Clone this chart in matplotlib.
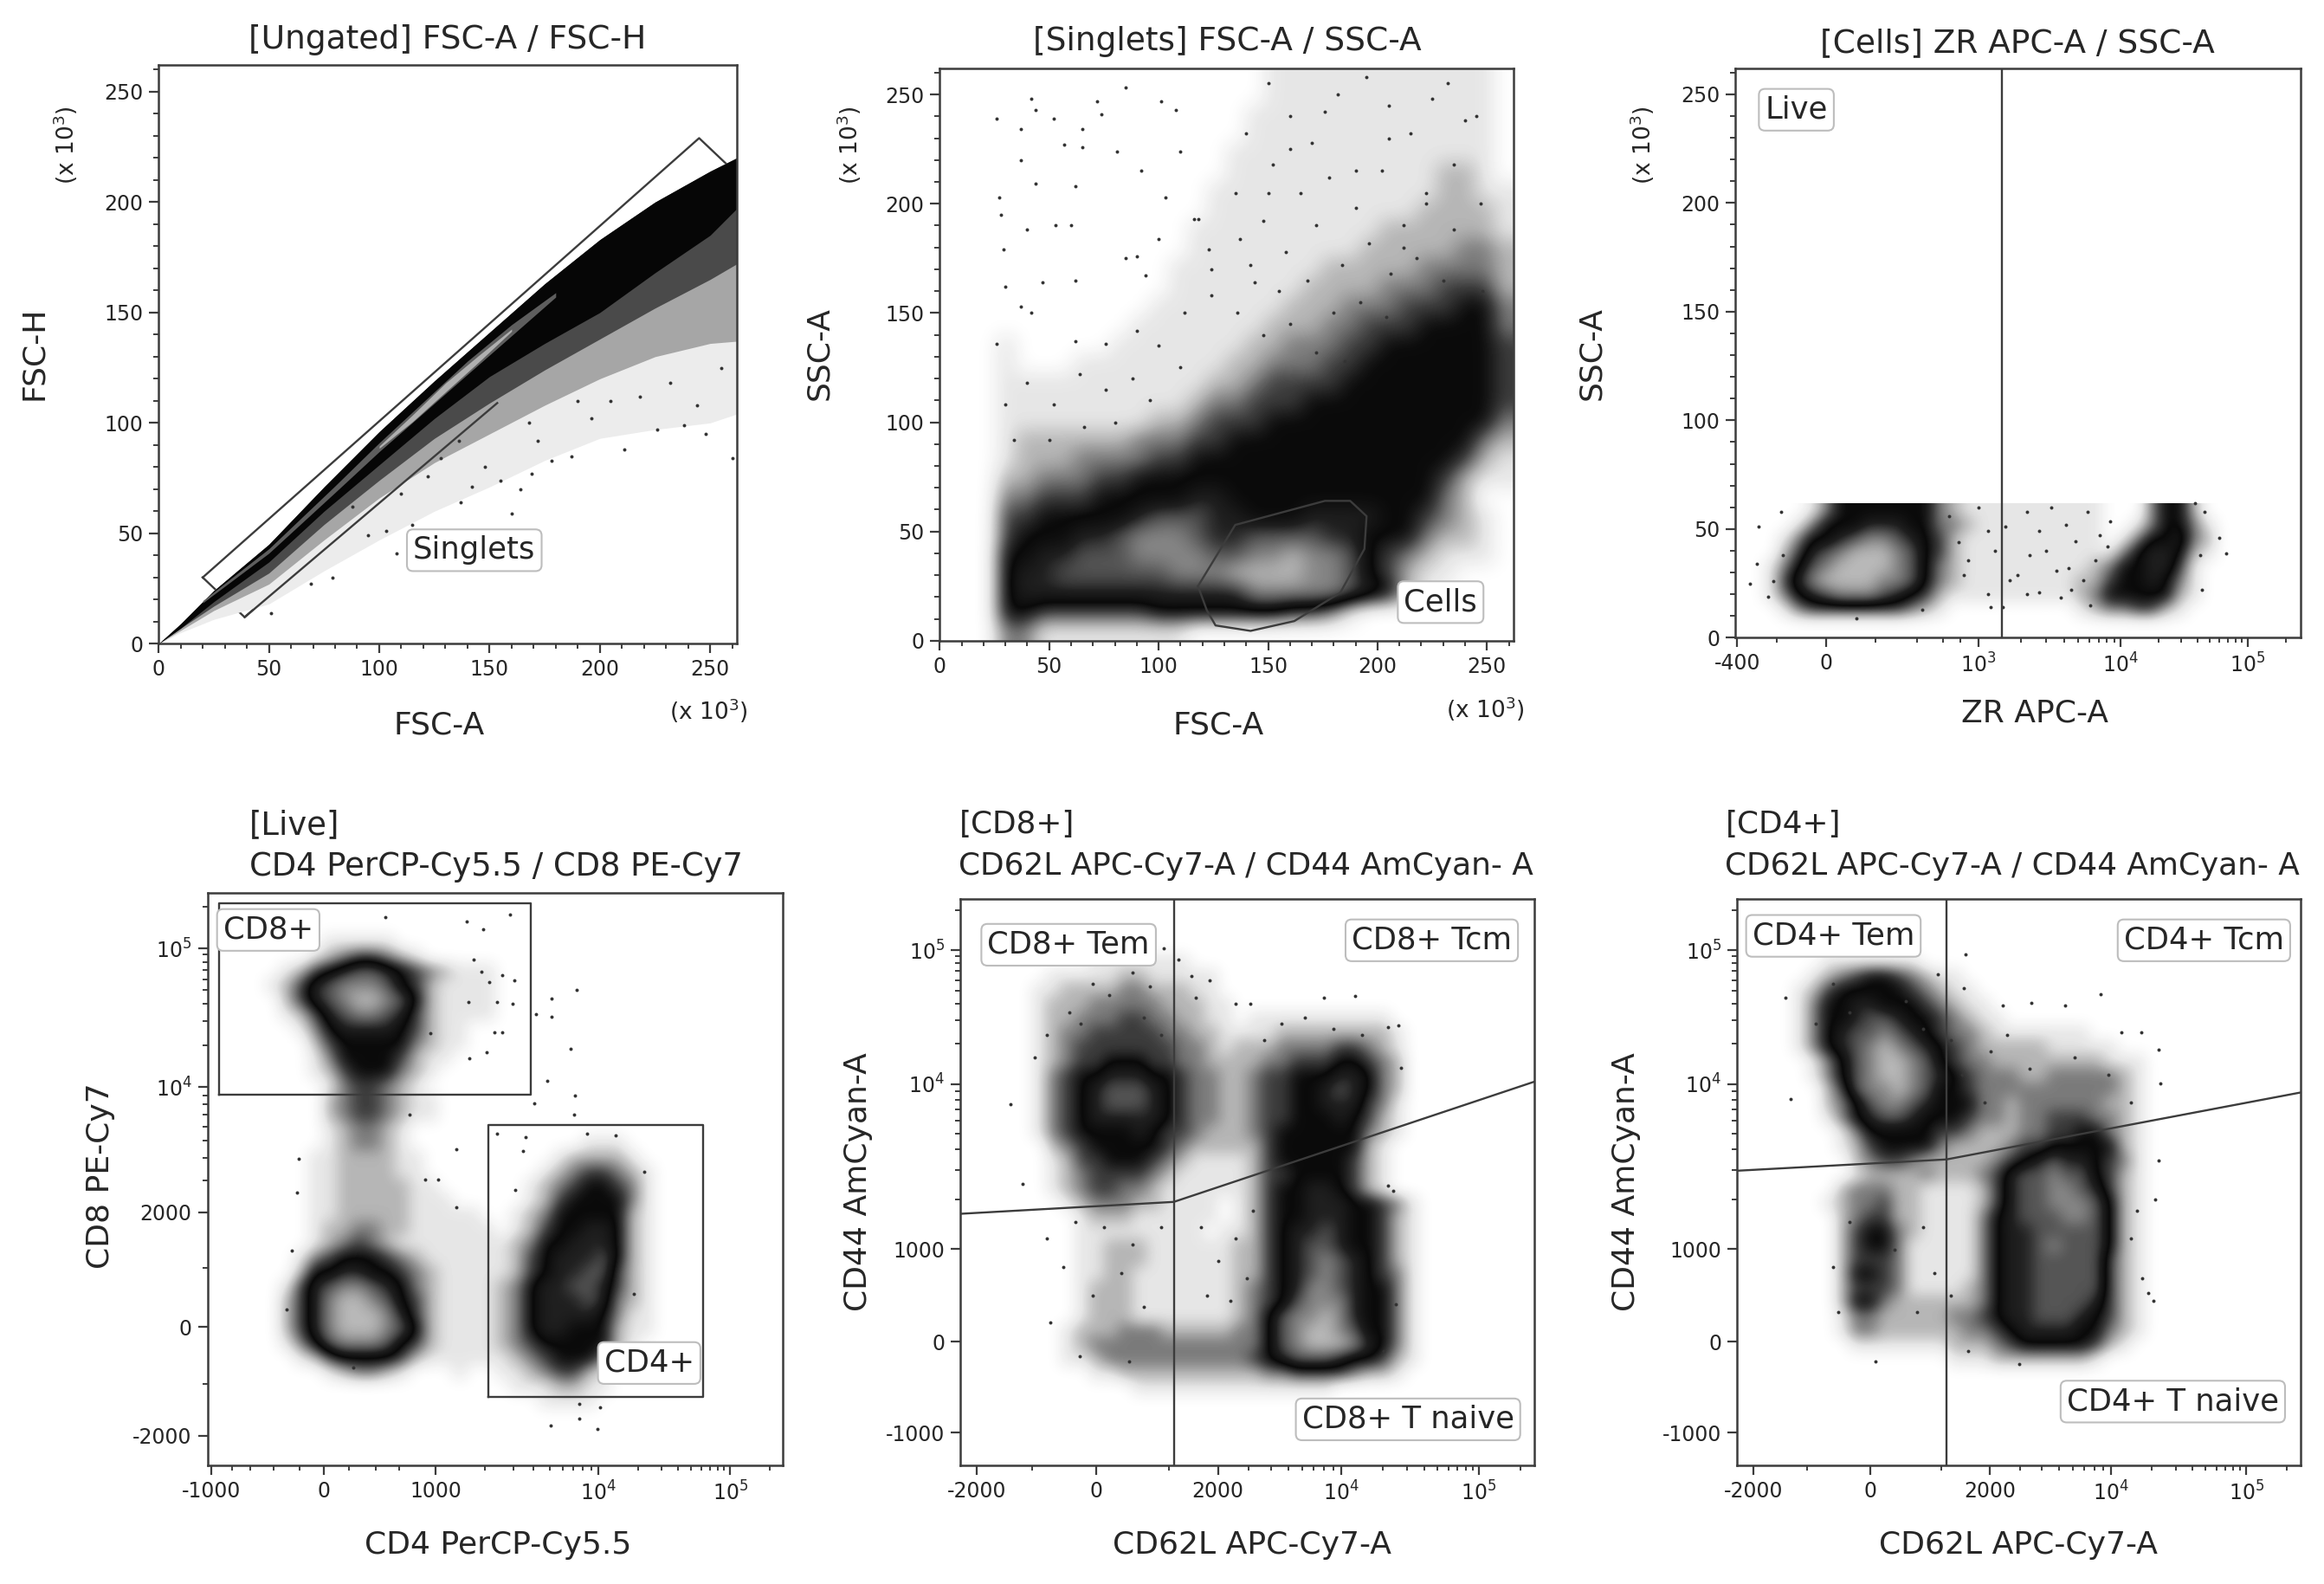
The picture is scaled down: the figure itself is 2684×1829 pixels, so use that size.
"""Six gating plots of a flow cytometry panel, densities read by eye from the picture."""
import numpy as np
import matplotlib
matplotlib.use("Agg")
import matplotlib.pyplot as plt
from matplotlib.colors import LinearSegmentedColormap
from matplotlib.ticker import MultipleLocator

# layout is measured on a view of the picture of this size
VIEW_W, VIEW_H = 1568.0, 1068.0

# ---- panel 1: FSC-A / FSC-H, envelopes of the diagonal band (x 10^3)
fsc_a = [0, 10, 25, 50, 75, 100, 125, 150, 175, 200, 225, 250, 262]
fsc_h_upper = [0, 9, 24, 45, 71, 96, 119, 141, 163, 183, 200, 214, 220]
fsc_h_dense = [0, 7, 19, 37, 60, 81, 102, 121, 136, 150, 168, 185, 197]
fsc_h_inner = [0, 7, 17, 32, 54, 74, 93, 109, 124, 138, 152, 165, 172]
fsc_h_speckle = [0, 6, 15, 27, 47, 66, 82, 95, 108, 120, 130, 136, 137]
fsc_h_sparse = [0, 5, 11, 18, 33, 47, 60, 71, 83, 93, 97, 100, 104]
core_a = [20, 50, 80, 100, 120, 140, 160, 180]
core_h = [19, 42, 70, 89, 107, 125, 142, 158]
core_halfwidth = [0.5, 1, 1.5, 2, 2.5, 3, 2.5, 1]
pale_a = [100, 115, 130, 145, 160]
pale_h = [89, 102, 116, 129, 142]
pale_halfwidth = [0.5, 1.5, 2, 1.5, 0.5]
singlets_gate_x = [20, 245, 264, 39, 20]
singlets_gate_y = [30, 229, 211, 12, 30]
singlets_lower_x = [39, 153.5]
singlets_lower_y = [12, 109]
singlets_dots_x = [51, 69, 79, 103, 108, 95, 160, 164, 137, 169, 178, 187, 211, 226, 248, 260, 238, 155, 142, 115,
                   88, 122, 128, 148, 172, 196, 205, 218, 232, 244, 255, 190, 168, 136, 110]
singlets_dots_y = [14, 27, 30, 51, 41, 49, 59, 70, 64, 77, 83, 85, 88, 97, 95, 84, 99, 74, 71, 54,
                   62, 76, 84, 80, 92, 102, 110, 112, 118, 108, 125, 110, 100, 92, 68]

# ---- panel 2: FSC-A / SSC-A, density levels, top row first
scatter_density = [
    "000000000000000001111111111110",
    "000000000000000001111111111110",
    "000000000000000011111111111110",
    "000000000000000011111111111110",
    "000000000000000111111111111110",
    "000000000000000111111111112210",
    "000000000000001111111111112211",
    "000000000000001111111111122221",
    "000000000000011111111112222221",
    "000000000000011111111122222332",
    "000000000000111111112222233332",
    "000000000000111111122223334442",
    "000000000001111111222333444553",
    "000000000011111112223344455553",
    "000100000111111122333445555554",
    "000100011111111223334455555554",
    "000111111111112234444555555554",
    "000111111111123344455555555554",
    "000111111112234445555555555553",
    "000122222233344555555555555532",
    "000122233334455555555555555421",
    "000223334455555555555555554211",
    "000334445555566555555555553200",
    "000 4455555 6777 6655 5666 6 554 32 10",
    "000 455566 78887 6 6777766 5 55 32 210",
    "000 556677 78888 7 7889887 5 43 21 110",
    "000 56677 7777 888 9999 88 754 211 000",
    "000 5666666666666 8888 8 7 65 21 00000",
    "000 554444445555555443100000000",
    "000 331111111100000000000000000",
]
cells_gate_x = [118, 135, 176, 187.5, 195, 194, 183, 162, 142, 126, 122, 118]
cells_gate_y = [25, 53, 64, 64, 57, 42, 22, 9, 4.5, 7, 14, 25]
scatter_dots_x = [26, 42, 44, 52, 65, 81, 74, 85, 72, 65, 57, 37, 37, 44, 27, 28, 29, 62, 53, 60, 40, 90, 85, 101,
                  108, 110, 103, 92, 116, 118, 100, 94, 62, 47, 30, 42, 37, 26, 62, 76, 90, 124, 124, 123, 137,
                  144, 176, 190, 205, 222, 240, 160, 150, 212, 232, 248,
                  150, 160, 170, 182, 195, 205, 215, 225, 235, 245, 140, 152, 165, 178, 190, 202, 212, 222, 235, 247,
                  135, 148, 158, 172, 184, 196, 206, 218, 230, 142, 155, 168, 180, 192, 204, 136, 148, 160, 172, 185,
                  112, 100, 88, 76, 64, 52, 40, 30, 34, 50, 66, 80, 96, 110]
scatter_dots_y = [239, 248, 243, 239, 234, 224, 241, 253, 247, 226, 227, 234, 220, 209, 203, 195, 179, 208, 190,
                  190, 188, 176, 175, 247, 243, 224, 203, 215, 193, 193, 184, 167, 165, 164, 162, 150, 153, 136,
                  137, 136, 142, 158, 170, 179, 184, 164, 242, 215, 230, 200, 238, 225, 205, 180, 255, 160,
                  255, 240, 228, 250, 258, 245, 232, 248, 218, 240, 232, 218, 205, 212, 198, 215, 190, 205, 188, 200,
                  205, 192, 178, 190, 172, 182, 168, 175, 165, 172, 160, 165, 150, 155, 148, 150, 140, 145, 132, 128,
                  150, 135, 120, 115, 122, 108, 118, 108, 92, 92, 98, 100, 110, 125]

# ---- panel 3: ZR APC-A / SSC-A, x in display channels, rows from SSC 62 down to 3.5
zr_density = [
    "000001355555553 21111111111 00035520",
    "000013555666553 32111111111 00135531",
    "000135567887654 21111111111 01355632",
    "000246789998754 21111111111 13566521",
    "001357899998753 21111111112 35566410",
    "001468999988753 21111111122 45565310",
    "001356788876542 11111111123 55555210",
    "000134444444321 00000000012 33442100",
    "",
]
zr_ticks = [3, 160, 430, 682, 907]
zr_tick_labels = ["-400", "0", "10$^3$", "10$^4$", "10$^5$"]
zr_linear_minor = [73, 248, 322, 368, 398]
zr_gate = 471
zr_dots_x = [80, 40, 37, 26, 57, 67, 83, 857, 868, 826, 831, 822, 814, 214, 473, 451, 330, 628,
             378, 395, 412, 430, 447, 460, 477, 499, 516, 538, 550, 568, 585, 602, 624, 637, 615, 594, 576, 516,
             538, 486, 447, 404, 645, 663, 658, 559, 520, 589]
zr_dots_y = [58, 51, 34, 25, 19, 26, 38, 46, 39, 22, 58, 38, 62, 9, 14, 14, 13, 15,
             56, 44, 35.5, 60, 49, 40, 51, 29, 58, 49, 40, 31, 52, 44.5, 58, 35.5, 26.5, 22, 18.5, 20,
             21, 26.5, 20, 29, 47, 53.5, 42, 60, 38, 32]

# ---- panel 4: CD4 / CD8, 40 x 40 density levels on display channels
cd4_cd8_density = [
    "", "", "",
    "00000000111110000000",
    "00000001234432100000",
    "00000124567765432111",
    "00001246788875421111",
    "00000246789987521111",
    "00000124678876421111",
    "00000013566665421100",
    "00000002455555321100",
    "00000001355554211000",
    "00000001245553210000",
    "00000000134432100000",
    "00000000234432110000",
    "00000000234432110000",
    "00000000123321000000",
    "00000000123321000000 00000011100",
    "00000001122221100000 00001222210",
    "00000001122221100000 00012344321",
    "00000001122222110000 00123455431",
    "00000001122222111000 00124555531",
    "00000001122222111110 01235555521",
    "00000001223322111111 01245566521",
    "00000001234321111111 12355666521",
    "00000013455543211111 12456667521",
    "00000025566554321111 12456677421",
    "00000146788765321111 23566776421",
    "00000246899875421111 23566676321",
    "00000246899986421111 23566665311",
    "00000246899987521111 23566555211",
    "00000135788875421111 23455555210",
    "00000012455554211111 12345553100",
    "00000000123321000100 11234421000",
    "00000000000000000000 01112211000",
    "00000000000000000000 00011110000",
    "", "", "", "",
]
cd4_ticks = [7, 202, 397, 680, 909]
cd4_tick_labels = ["-1000", "0", "1000", "10$^4$", "10$^5$"]
cd4_linear_minor = [43, 74, 115, 160, 246, 293, 333]
cd8_ticks = [52, 242, 442, 661, 903]
cd8_tick_labels = ["-2000", "0", "2000", "10$^4$", "10$^5$"]
cd8_linear_minor = [142, 345]
cd8_gate_x = [20, 562, 562, 20, 20]
cd8_gate_y = [648, 648, 982, 982, 648]
cd4_gate_x = [488, 862, 862, 488, 488]
cd4_gate_y = [120, 120, 594, 594, 120]
cd4_dots_x = [526, 450, 479, 309, 463, 477, 490, 533, 513, 530, 504, 454, 499, 513, 486, 456, 387, 642, 599, 599,
              571, 631, 591, 639, 568, 638, 352, 432, 504, 553, 660, 709, 760, 741, 597, 647, 647, 678, 682, 253,
              432, 137, 146, 155, 159, 401, 378, 535, 548]
cd4_dots_y = [962, 950, 937, 957, 884, 863, 844, 847, 856, 806, 810, 810, 756, 756, 722, 711, 755, 831, 815, 783,
              788, 727, 671, 646, 632, 612, 612, 552, 580, 574, 580, 576, 513, 300, 70, 108, 81, 63, 102, 171,
              451, 273, 375, 476, 535, 499, 499, 481, 549]

# ---- panel 5: CD8+ CD62L / CD44
cd8_memory_density = [
    "", "", "", "",
    "00000000011111110000",
    "00000011111221111100",
    "00000112222332221100",
    "00000122233333222110",
    "00000122333443322110 11111111110",
    "00000123344444332211 11222222221",
    "00000123444444433212 22333344321",
    "00000123445554433222 23344455432",
    "00000134556665543322 34455566532",
    "00000134567776543322 34455676532",
    "00000134567776543322 34455666431",
    "00000134566666543322 34455565421",
    "00000134555565443222 34555555321",
    "00000023455555432222 24555555210",
    "00000012445554321111 24555554210",
    "00000012344443211111 24455554210",
    "00000012344332111111 24556654210",
    "00000001233322111101 245566655431",
    "00000000122211111101 245566655421",
    "00000000111111111011 245667655421",
    "00000000112221111112 245677655421",
    "00000000112221111112 245678765421",
    "00000000112211111112 245678765431",
    "00000000122211111112 345688765531",
    "00000000122211111112 345788865531",
    "00000000122211111112 357889865531",
    "00000001222333222223 357899875531",
    "00000001233333333333 357899986531",
    "00000001123333333333 456777655421",
    "00000000011222222222 233444432210",
    "00000000000011111111 111111000000",
    "", "", "", "", "",
]
biex_x_ticks = [29, 237, 449, 664, 904]
biex_x_labels = ["-2000", "0", "2000", "10$^4$", "10$^5$"]
biex_x_linear_minor = [125, 363]
biex_y_ticks = [58, 218, 382, 673, 909]
biex_y_labels = ["-1000", "0", "1000", "10$^4$", "10$^5$"]
cd8_quad_x = 372
cd8_curve_x = [0, 372, 1000]
cd8_curve_y = [444, 465, 677]
cd8_mem_dots_x = [355, 380, 402, 434, 410, 479, 505, 634, 688, 763, 746, 88, 109, 759, 738, 294, 208, 157, 755, 746,
                  768, 230, 260, 300, 330, 190, 210, 320, 350, 150, 130, 420, 450, 480, 510, 430, 470, 500, 150, 180,
                  230, 280, 320, 350, 200, 250, 300, 560, 600, 650, 700, 530]
cd8_mem_dots_y = [913, 893, 864, 856, 825, 814, 814, 825, 829, 776, 773, 638, 497, 284, 202, 184, 193, 252, 484, 493,
                  702, 850, 830, 870, 845, 800, 780, 790, 760, 760, 720, 420, 360, 400, 450, 300, 290, 330, 400, 350,
                  300, 340, 280, 420, 430, 420, 390, 780, 790, 770, 760, 750]

# ---- panel 6: CD4+ CD62L / CD44
cd4_memory_density = [
    "", "", "", "",
    "00000011111110",
    "00000123455432110",
    "00001245555543211",
    "00001355665554321100",
    "00001355677655432110 0",
    "00001356778765433211 111110000",
    "00001356789876543222 221111100",
    "00000135789987543322 222222111",
    "00000135789987654333 223333321",
    "00000024788987554333 333333321",
    "00000023578876555332 333333221",
    "00000013567765554332 334443321",
    "00000001355555443222 334455321",
    "00000001245555322223 445555521",
    "00000000234432222234 567665431",
    "00000000122223222346 778775421",
    "00000002333221111246 778876421",
    "00000012334221111246 778887521",
    "00000002344221111356 777887521",
    "00000002455321111356 677777521",
    "00000002455311111356 678777521",
    "00000002444311111356 677777421",
    "00000002554311111356 677777421",
    "00000002444311112356 677777421",
    "00000002553222222356 677776421",
    "00000001332222233456 677765421",
    "00000001332222223345 666655321",
    "00000000111111122234 555554210",
    "00000000000000011122 222221000",
    "", "", "", "", "", "", "",
]
cd4_curve_x = [0, 372, 1000]
cd4_curve_y = [520, 540, 658]
cd4_mem_dots_x = [406, 402, 357, 646, 523, 471, 583, 717, 683, 748, 752, 748, 743, 730, 86, 95, 246, 501, 411,
                  170, 200, 140, 300, 330, 380, 450, 520, 600, 660, 700, 440, 400, 480, 350, 380, 330, 320, 720, 740,
                  710, 700, 180, 170, 200, 280]
cd4_mem_dots_y = [902, 842, 867, 832, 817, 811, 811, 765, 765, 733, 674, 538, 470, 304, 825, 647, 184, 179, 202,
                  850, 800, 780, 820, 770, 750, 730, 700, 720, 690, 640, 640, 690, 760, 340, 300, 420, 270, 330, 290,
                  450, 400, 270, 350, 430, 380]

# text
plt.rcParams["font.family"] = ["DejaVu Sans"]
plt.rcParams["mathtext.default"] = "regular"
TEXT = "#262626"
EDGE = "#3c3c3c"
TITLE_SIZE = 27
TITLE2_SIZE = 25.8
LIVE_TITLE_SIZE = 26.6
LABEL_SIZE = 26
GATE_SIZE = 25.5
TICK_SIZE = 17
UNIT_SIZE = 19

# zero is paper, then sparse dots up to solid black, then the pale core of the dense plots
density_cmap = LinearSegmentedColormap.from_list("density", [
    (0 / 9, "#ffffff"), (1 / 9, "#e6e6e6"), (2 / 9, "#b5b5b5"), (3 / 9, "#7a7a7a"), (4 / 9, "#3c3c3c"),
    (5 / 9, "#0a0a0a"), (6 / 9, "#1f1f1f"), (7 / 9, "#545454"), (8 / 9, "#858585"), (9 / 9, "#b8b8b8"),
])


def make_axes(figure, left, top, right, bottom):
    rect = [left / VIEW_W, 1 - bottom / VIEW_H, (right - left) / VIEW_W, (bottom - top) / VIEW_H]
    axes = figure.add_axes(rect)
    for spine in axes.spines.values():
        spine.set_linewidth(1.8)
        spine.set_color(EDGE)
    axes.tick_params(which="major", length=8, width=1.6, color=EDGE, labelsize=TICK_SIZE,
                     labelcolor=TEXT, pad=5)
    axes.tick_params(which="minor", length=4, width=1.4, color=EDGE)
    return axes


def draw_density(axes, rows, extent, ncols):
    cells = [[int(c) for c in row.replace(" ", "").ljust(ncols, "0")[:ncols]] for row in rows]
    axes.imshow(np.array(cells), extent=extent, cmap=density_cmap, vmin=0, vmax=9, aspect="auto",
                interpolation="bicubic", zorder=1)


def draw_dots(axes, xs, ys):
    axes.scatter(xs, ys, s=8, color="#333333", linewidths=0, zorder=2)


def draw_gate(axes, xs, ys, zorder=3):
    axes.plot(xs, ys, color=EDGE, linewidth=1.7, zorder=zorder)


def linear_axis(axes, which):
    axis = axes.xaxis if which == "x" else axes.yaxis
    axis.set_major_locator(MultipleLocator(50))
    axis.set_minor_locator(MultipleLocator(10))


def decade_minor(low, high, start=2):
    return [low + (high - low) * np.log10(k) for k in range(start, 10)]


def channel_axis(axes, which, ticks, labels, minor):
    axis = axes.xaxis if which == "x" else axes.yaxis
    axis.set_ticks(ticks)
    axis.set_ticklabels(labels)
    axis.set_ticks([m for m in minor if 0 < m < 1000], minor=True)


def place(figure, x, y, text, size=LABEL_SIZE, **kwargs):
    kwargs.setdefault("ha", "center")
    figure.text(x / VIEW_W, 1 - y / VIEW_H, text, fontsize=size, color=TEXT, va="center", **kwargs)


def gate_label(figure, x, y, text):
    place(figure, x, y, text, GATE_SIZE, zorder=5,
          bbox=dict(boxstyle="round,pad=0.2", facecolor="white", edgecolor="#bdbdbd", linewidth=1.5))


def band(axes, xs, low, high, colour, zorder=1):
    axes.fill_between(xs, low, high, color=colour, linewidth=0, zorder=zorder)


fig = plt.figure(figsize=(26.84, 18.29), dpi=100)

# panel 1, the far side of the gate disappears under the band
ax1 = make_axes(fig, 107, 44, 497, 434)
draw_gate(ax1, singlets_gate_x, singlets_gate_y, zorder=0.5)
band(ax1, fsc_a, fsc_h_sparse, fsc_h_upper, "#ececec")
band(ax1, fsc_a, fsc_h_speckle, fsc_h_upper, "#a6a6a6")
band(ax1, fsc_a, fsc_h_inner, fsc_h_upper, "#4a4a4a")
band(ax1, fsc_a, fsc_h_dense, fsc_h_upper, "#060606")
band(ax1, core_a, [h - w for h, w in zip(core_h, core_halfwidth)],
     [h + w for h, w in zip(core_h, core_halfwidth)], "#5e5e5e", zorder=2)
band(ax1, pale_a, [h - w for h, w in zip(pale_h, pale_halfwidth)],
     [h + w for h, w in zip(pale_h, pale_halfwidth)], "#b0b0b0", zorder=2)
draw_dots(ax1, singlets_dots_x, singlets_dots_y)
draw_gate(ax1, singlets_lower_x, singlets_lower_y)
ax1.set_xlim(0, 262)
ax1.set_ylim(0, 262)
linear_axis(ax1, "x")
linear_axis(ax1, "y")

# panel 2
ax2 = make_axes(fig, 634, 46, 1021, 432)
draw_density(ax2, scatter_density, (0, 262, 0, 262), 30)
draw_dots(ax2, scatter_dots_x, scatter_dots_y)
draw_gate(ax2, cells_gate_x, cells_gate_y)
ax2.set_xlim(0, 262)
ax2.set_ylim(0, 262)
linear_axis(ax2, "x")
linear_axis(ax2, "y")

# panel 3
ax3 = make_axes(fig, 1171, 46, 1552, 430)
draw_density(ax3, zr_density, (0, 1000, 3.5, 62), 40)
draw_dots(ax3, zr_dots_x, zr_dots_y)
ax3.axvline(zr_gate, color=EDGE, linewidth=1.7, zorder=3)
ax3.set_xlim(0, 1000)
ax3.set_ylim(0, 262)
channel_axis(ax3, "x", zr_ticks, zr_tick_labels,
             zr_linear_minor + decade_minor(430, 682) + decade_minor(682, 907) + decade_minor(907, 1132))
linear_axis(ax3, "y")

# panel 4
ax4 = make_axes(fig, 140, 602, 528, 988)
draw_density(ax4, cd4_cd8_density, (0, 1000, 0, 1000), 40)
draw_dots(ax4, cd4_dots_x, cd4_dots_y)
draw_gate(ax4, cd8_gate_x, cd8_gate_y)
draw_gate(ax4, cd4_gate_x, cd4_gate_y)
ax4.set_xlim(0, 1000)
ax4.set_ylim(0, 1000)
channel_axis(ax4, "x", cd4_ticks, cd4_tick_labels,
             cd4_linear_minor + decade_minor(397, 680) + decade_minor(680, 909) + decade_minor(909, 1138))
channel_axis(ax4, "y", cd8_ticks, cd8_tick_labels,
             cd8_linear_minor + decade_minor(348, 661, 3) + decade_minor(661, 903) + decade_minor(903, 1145))

# panels 5 and 6 share their axes
for box, density, quad_x, curve_x, curve_y, dots_x, dots_y in (
        ((648, 606, 1035, 988), cd8_memory_density, cd8_quad_x, cd8_curve_x, cd8_curve_y,
         cd8_mem_dots_x, cd8_mem_dots_y),
        ((1172, 606, 1552, 988), cd4_memory_density, cd8_quad_x, cd4_curve_x, cd4_curve_y,
         cd4_mem_dots_x, cd4_mem_dots_y)):
    ax = make_axes(fig, *box)
    draw_density(ax, density, (0, 1000, 0, 1000), 40)
    draw_dots(ax, dots_x, dots_y)
    ax.axvline(quad_x, color=EDGE, linewidth=1.7, zorder=3)
    draw_gate(ax, curve_x, curve_y)
    ax.set_xlim(0, 1000)
    ax.set_ylim(0, 1000)
    channel_axis(ax, "x", biex_x_ticks, biex_x_labels,
                 biex_x_linear_minor + decade_minor(356, 664, 3) + decade_minor(664, 904) + decade_minor(904, 1144))
    channel_axis(ax, "y", biex_y_ticks, biex_y_labels,
                 decade_minor(382, 673) + decade_minor(673, 909) + decade_minor(909, 1145))

# titles
place(fig, 302, 27, "[Ungated] FSC-A / FSC-H", TITLE_SIZE)
place(fig, 828, 28, "[Singlets] FSC-A / SSC-A", TITLE_SIZE)
place(fig, 1361, 29, "[Cells] ZR APC-A / SSC-A", TITLE_SIZE)
place(fig, 168, 556, "[Live]", LIVE_TITLE_SIZE, ha="left")
place(fig, 168, 584, "CD4 PerCP-Cy5.5 / CD8 PE-Cy7", LIVE_TITLE_SIZE, ha="left")
place(fig, 647, 556, "[CD8+]", TITLE2_SIZE, ha="left")
place(fig, 647, 584, "CD62L APC-Cy7-A / CD44 AmCyan- A", TITLE2_SIZE, ha="left")
place(fig, 1164, 556, "[CD4+]", TITLE2_SIZE, ha="left")
place(fig, 1164, 584, "CD62L APC-Cy7-A / CD44 AmCyan- A", TITLE2_SIZE, ha="left")

# axis labels
place(fig, 296, 489, "FSC-A")
place(fig, 23, 238, "FSC-H", rotation=90)
place(fig, 822, 489, "FSC-A")
place(fig, 553, 238, "SSC-A", rotation=90)
place(fig, 1373, 481, "ZR APC-A")
place(fig, 1074, 238, "SSC-A", rotation=90)
place(fig, 336, 1042, "CD4 PerCP-Cy5.5")
place(fig, 68, 793, "CD8 PE-Cy7", rotation=90)
place(fig, 845, 1042, "CD62L APC-Cy7-A")
place(fig, 579, 797, "CD44 AmCyan-A", rotation=90)
place(fig, 1362, 1042, "CD62L APC-Cy7-A")
place(fig, 1097, 797, "CD44 AmCyan-A", rotation=90)

# axis multipliers
place(fig, 478, 479, "(x 10$^3$)", UNIT_SIZE)
place(fig, 44, 98, "(x 10$^3$)", UNIT_SIZE, rotation=90)
place(fig, 1002, 478, "(x 10$^3$)", UNIT_SIZE)
place(fig, 573, 98, "(x 10$^3$)", UNIT_SIZE, rotation=90)
place(fig, 1108, 98, "(x 10$^3$)", UNIT_SIZE, rotation=90)

# gate names
gate_label(fig, 320, 371, "Singlets")
gate_label(fig, 972, 406, "Cells")
gate_label(fig, 1212, 74, "Live")
gate_label(fig, 181, 627, "CD8+")
gate_label(fig, 438, 919, "CD4+")
gate_label(fig, 721, 637, "CD8+ Tem")
gate_label(fig, 966, 634, "CD8+ Tcm")
gate_label(fig, 950, 957, "CD8+ T naive")
gate_label(fig, 1237, 631, "CD4+ Tem")
gate_label(fig, 1487, 634, "CD4+ Tcm")
gate_label(fig, 1466, 945, "CD4+ T naive")

fig.savefig("out.png", dpi=100)
